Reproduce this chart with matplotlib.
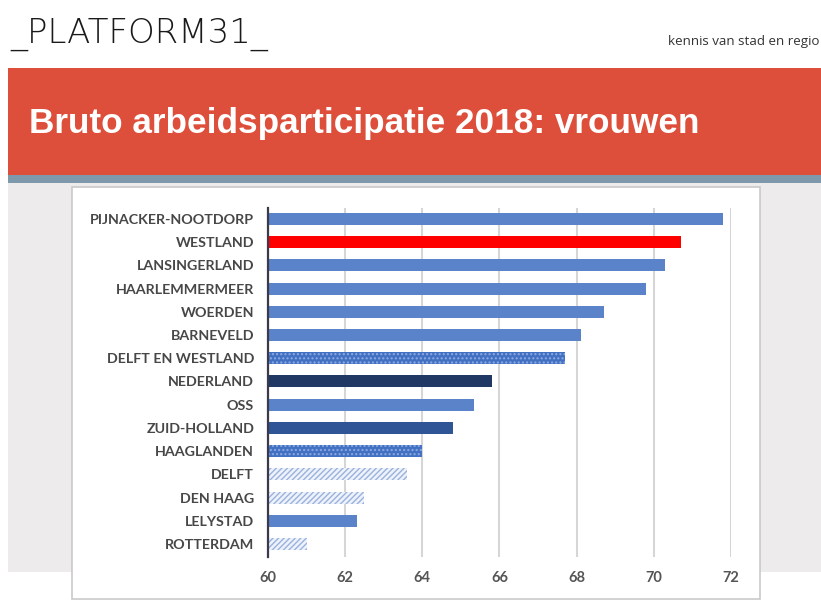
import matplotlib
matplotlib.use("Agg")
import matplotlib.pyplot as plt
from matplotlib.patches import Rectangle

categories = ["PIJNACKER-NOOTDORP", "WESTLAND", "LANSINGERLAND", "HAARLEMMERMEER",
              "WOERDEN", "BARNEVELD", "DELFT EN WESTLAND", "NEDERLAND", "OSS",
              "ZUID-HOLLAND", "HAAGLANDEN", "DELFT", "DEN HAAG", "LELYSTAD", "ROTTERDAM"]
values = [71.8, 70.7, 70.3, 69.8, 68.7, 68.1, 67.7, 65.8, 65.35, 64.8, 64.0, 63.6, 62.5, 62.3, 61.0]
styles = ["plain", "red", "plain", "plain", "plain", "plain", "dots", "navy", "plain",
          "dark", "dots", "hatch", "hatch", "plain", "hatch"]
xticks = [60, 62, 64, 66, 68, 70, 72]

W, H = 821, 601
fig = plt.figure(figsize=(W / 100, H / 100), dpi=100)
fig.patch.set_facecolor("white")

def px_rect(x0, y0, x1, y1, **kw):
    r = Rectangle((x0 / W, 1 - y1 / H), (x1 - x0) / W, (y1 - y0) / H,
                  transform=fig.transFigure, **kw)
    fig.add_artist(r)

# header banner and background
px_rect(8, 68, W, 175, facecolor="#DD4F3B", edgecolor="none", zorder=0)
px_rect(8, 175, W, 183, facecolor="#7E99AB", edgecolor="none", zorder=0)
px_rect(8, 183, W, 572, facecolor="#EDEBEB", edgecolor="none", zorder=0)
px_rect(72, 187, 760, 599, facecolor="white", edgecolor="#C9C9C9", linewidth=1.2, zorder=0.5)

fig.text(29 / W, 1 - 123 / H, "Bruto arbeidsparticipatie 2018: vrouwen",
         color="white", fontsize=25.3, fontweight="bold", family="Liberation Sans",
         ha="left", va="center")
fig.text(10 / W, 1 - 34 / H, "_PLATFORM31_", color="#1a1a1a", fontsize=24.5,
         family="DejaVu Sans", fontweight="light", ha="left", va="center")
fig.text(819 / W, 1 - 42 / H, "kennis van stad en regio", color="#333333", fontsize=9.6,
         family="Open Sans", ha="right", va="center")

ax = fig.add_axes([268 / W, 1 - 557 / H, 463 / W, 349 / H])
ax.set_facecolor("none")
ax.set_zorder(1)

y = list(range(len(categories)))
for i, (v, s) in enumerate(zip(values, styles)):
    w = v - 60
    if s == "plain":
        ax.barh(i, w, left=60, height=0.52, color="#5B83C9", linewidth=0, zorder=3)
    elif s == "red":
        ax.barh(i, w, left=60, height=0.52, color="#FF0000", linewidth=0, zorder=3)
    elif s == "navy":
        ax.barh(i, w, left=60, height=0.52, color="#203864", linewidth=0, zorder=3)
    elif s == "dark":
        ax.barh(i, w, left=60, height=0.52, color="#2F5597", linewidth=0, zorder=3)
    elif s == "dots":
        ax.barh(i, w, left=60, height=0.52, color="#4271C3", edgecolor="#8FAAE0",
                linewidth=0, hatch="....", zorder=3)
    elif s == "hatch":
        ax.barh(i, w, left=60, height=0.52, color="#EEF2FA", edgecolor="#9AB2DD",
                linewidth=0, hatch="//////", zorder=3)

ax.set_xlim(60, 72)
ax.set_ylim(14.56, -0.47)
ax.set_xticks(xticks)
ax.set_xticklabels([str(t) for t in xticks])
ax.set_yticks(y)
ax.set_yticklabels(categories)
for sp in ["top", "right", "bottom"]:
    ax.spines[sp].set_visible(False)
ax.spines["left"].set_color("#3a3a4a")
ax.spines["left"].set_linewidth(1.6)
ax.spines["left"].set_zorder(4)
ax.grid(axis="x", color="#D6D6D6", linewidth=1.5, zorder=0)
ax.tick_params(axis="both", length=0)
ax.tick_params(axis="y", pad=10)
ax.tick_params(axis="x", pad=10)
for lab in ax.get_yticklabels():
    lab.set_fontfamily("Lato")
    lab.set_fontweight("bold")
    lab.set_fontsize(10.3)
    lab.set_color("#474747")
for lab in ax.get_xticklabels():
    lab.set_fontfamily("Lato")
    lab.set_fontweight("bold")
    lab.set_fontsize(10.5)
    lab.set_color("#555555")

fig.savefig("out.png", dpi=100)
